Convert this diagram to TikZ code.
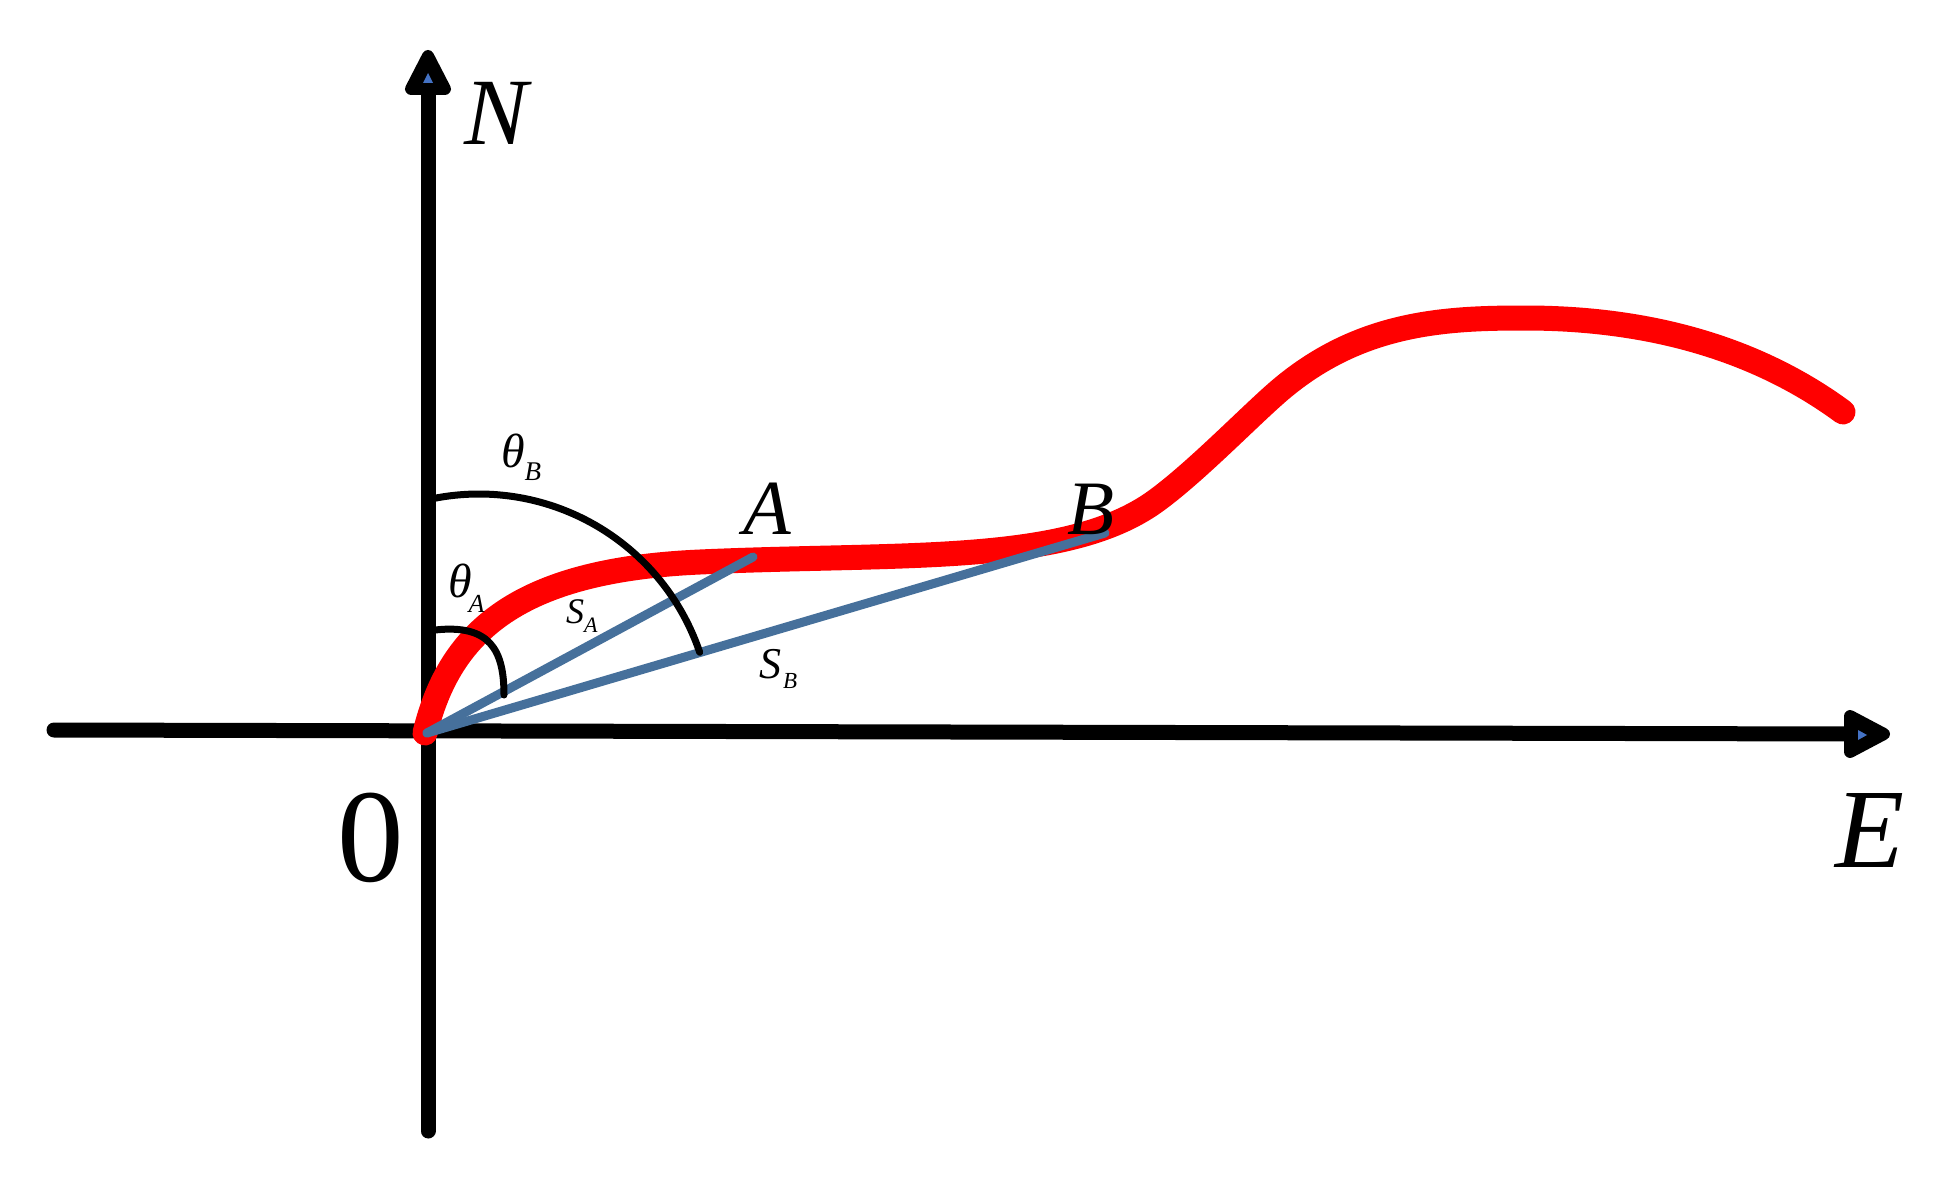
\documentclass[tikz,border=0pt]{standalone}
\usepackage{fontspec}
\setmainfont{Liberation Serif}
\definecolor{raycol}{RGB}{70,112,155}
\definecolor{tipblue}{RGB}{68,114,196}
\begin{document}
\begin{tikzpicture}[x=1pt,y=-1pt,
  axis/.style={line width=15pt, line cap=round},
  trajectory/.style={line width=25pt, red, line cap=round, line join=round},
  ray/.style={line width=9pt, draw=raycol, line cap=round},
  anglearc/.style={line width=7pt, line cap=round},
  headtip/.style={fill=black, draw=black, line width=12pt, line join=round},
  innertip/.style={fill=tipblue, draw=none},
  lab/.style={inner sep=0pt, outer sep=0pt},
]
\useasboundingbox (0,0) rectangle (1944,1185);
\coordinate (O) at (427,733);
\coordinate (Ntop) at (428,92);
\coordinate (Sbot) at (428,1131);
\coordinate (Wend) at (54,730);
\coordinate (Eend) at (1852,734);
\coordinate (Apt) at (753,557);
\coordinate (Bpt) at (1105,533);
% axes
\draw[axis] (Sbot) -- (Ntop);
\draw[axis] (Wend) -- (Eend);
\draw[headtip] (428,56) -- (411,89) -- (445,89) -- cycle;
\fill[innertip] (428,73) -- (423,83) -- (433,83) -- cycle;
\draw[headtip] (1884,734) -- (1850,716) -- (1850,752) -- cycle;
\fill[innertip] (1867,735) -- (1858,730) -- (1858,740) -- cycle;
% trajectory
\draw[trajectory] (425,733)
  .. controls (450,630) and (520,570) .. (700,562)
  .. controls (900,553) and (1060,565) .. (1150,505)
  .. controls (1190,478) and (1250,415.5) .. (1280,390)
  .. controls (1360,322) and (1445,318) .. (1525,318)
  .. controls (1635,318) and (1748,342) .. (1843,412);
% rays
\draw[ray] (O) -- (Apt);
\draw[ray] (O) -- (Bpt);
% angle arcs
\draw[anglearc] (435,630) .. controls (490,624) and (504,650) .. (504,695);
\draw[anglearc] plot[domain=-101:-18.7, samples=50, smooth] ({479+233*cos(\x)},{727+233*sin(\x)});
% labels
\node[lab, anchor=base, font=\fontsize{95}{95}\selectfont\itshape] (labN) at (496,145) {N};
\node[lab, anchor=base, font=\fontsize{113}{113}\selectfont\itshape] (labE) at (1870,867) {E};
\node[lab, anchor=base, font=\fontsize{133}{133}\selectfont] (lab0) at (371,881) {0};
\node[lab, anchor=base, font=\fontsize{78}{78}\selectfont\itshape] (labA) at (767,534) {A};
\node[lab, anchor=base, font=\fontsize{77}{77}\selectfont\itshape] (labB) at (1091,534) {B};
\node[lab, anchor=base west, font=\itshape] (thB) at (501,467)
  {\fontsize{48}{48}\selectfont θ\raisebox{-13pt}{\fontsize{27}{27}\selectfont B}};
\node[lab, anchor=base west, font=\itshape] (thA) at (448,597)
  {\fontsize{48}{48}\selectfont θ\kern-3pt\raisebox{-15pt}{\fontsize{26}{26}\selectfont A}};
\node[lab, anchor=base west, font=\itshape] (sA) at (566,623)
  {\fontsize{36}{36}\selectfont S\raisebox{-9pt}{\fontsize{22}{22}\selectfont A}};
\node[lab, anchor=base west, font=\itshape] (sB) at (759,678)
  {\fontsize{44}{44}\selectfont S\kern2pt\raisebox{-10pt}{\fontsize{23}{23}\selectfont B}};
\end{tikzpicture}
\end{document}
